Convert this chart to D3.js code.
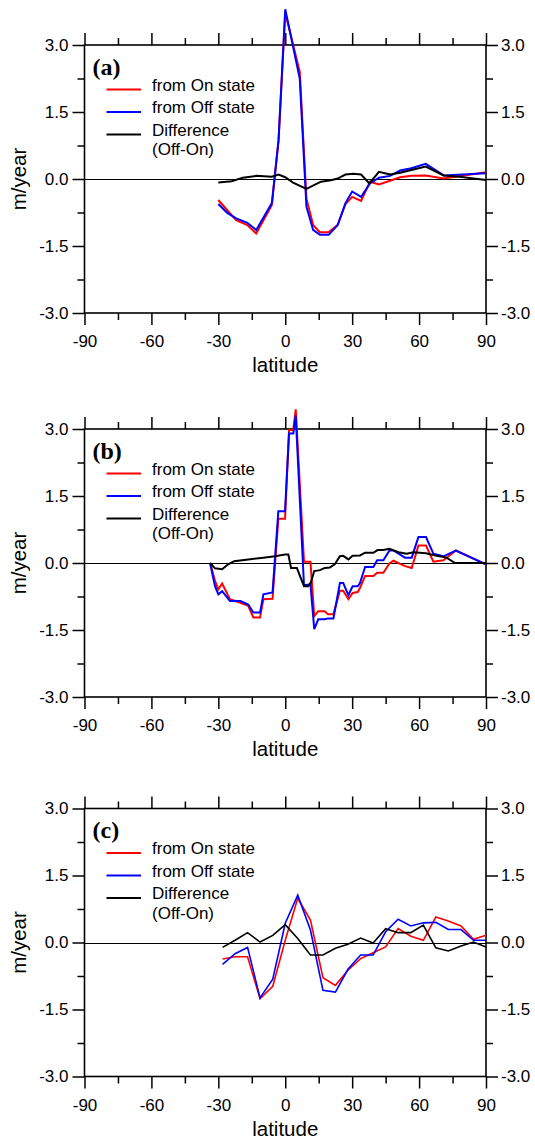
<!DOCTYPE html>
<html>
<head>
<meta charset="utf-8">
<script src="https://cdn.jsdelivr.net/npm/d3@7"></script>
<style>
  body { margin: 0; background: #fff; }
  text { font-family: "Liberation Sans", Arial, Helvetica, sans-serif; fill: #000; }
</style>
</head>
<body>
<svg id="chart" width="535" height="1144"></svg>
<script>
// ---- axis ticks ----
const xMajorTicks = [-90, -60, -30, 0, 30, 60, 90];
const xMinorTicks = [-75, -45, -15, 15, 45, 75];
const yMajorTicks = [-3, -1.5, 0, 1.5, 3];
const yMinorTicks = [-2.25, -0.75, 0.75, 2.25];
const legendLabels = ["from On state", "from Off state", "Difference", "(Off-On)"];
const panelLabels = ["(a)", "(b)", "(c)"];

// ---- panel (a) ----
const latA = [-30, -26, -22, -17, -13, -6, -3, 0, 6.5, 9.5, 12.5, 15.5, 19.5, 23.5, 27, 30, 34, 38, 42, 47, 51.5, 56.5, 63, 71, 90];
const onA  = [-0.47, -0.70, -0.92, -1.03, -1.22, -0.58, 0.87, 3.72, 2.40, -0.44, -1.03, -1.19, -1.19, -1.03, -0.56, -0.40, -0.49, -0.06, -0.12, -0.04, 0.04, 0.07, 0.08, 0.01, 0.15];
const offA = [-0.56, -0.76, -0.88, -0.98, -1.14, -0.54, 0.87, 3.80, 2.25, -0.62, -1.14, -1.25, -1.25, -1.03, -0.54, -0.28, -0.40, -0.10, 0.03, 0.07, 0.19, 0.24, 0.34, 0.08, 0.13];
const diffLatA = [-30, -24, -19, -13, -6, -3, 0, 3.5, 9.5, 16, 20.5, 23.5, 27, 30.5, 34, 37.7, 42, 47, 51.5, 56.5, 63, 71, 78, 90];
const diffA    = [-0.08, -0.05, 0.03, 0.07, 0.05, 0.10, 0.04, -0.08, -0.22, -0.06, -0.03, 0.01, 0.10, 0.12, 0.10, -0.10, 0.16, 0.10, 0.14, 0.20, 0.28, 0.08, 0.05, -0.02];

// ---- panel (b) ----
const latB = [-33.7, -31.5, -30, -28.3, -24.8, -20.1, -16.6, -14.3, -11.3, -9.8, -5.7, -3.1, -0.1, 1.7, 3.6, 4.7, 8.4, 11.3, 13, 14.8, 17.7, 19.2, 21.6, 24.5, 26, 28.3, 30.2, 32.5, 33.5, 35.8, 39.5, 41.2, 44, 46.7, 48.5, 53.7, 56.7, 59.7, 63.1, 66.4, 70.9, 76.5, 90];
const onB  = [0, -0.40, -0.59, -0.46, -0.81, -0.89, -0.96, -1.22, -1.22, -0.81, -0.80, 0.99, 0.99, 2.98, 2.98, 3.44, 0.03, 0.03, -1.19, -1.08, -1.08, -1.15, -1.15, -0.62, -0.62, -0.81, -0.67, -0.65, -0.56, -0.29, -0.29, -0.22, -0.22, -0.01, 0.05, -0.07, -0.11, 0.39, 0.39, 0.03, 0.06, 0.28, -0.03];
const offB = [0, -0.52, -0.70, -0.63, -0.85, -0.85, -0.93, -1.11, -1.11, -0.70, -0.66, 1.16, 1.16, 2.90, 2.90, 3.30, -0.50, -0.48, -1.48, -1.26, -1.26, -1.24, -1.24, -0.45, -0.45, -0.72, -0.52, -0.52, -0.45, -0.09, -0.09, 0.06, 0.06, 0.28, 0.28, 0.12, 0.12, 0.58, 0.58, 0.21, 0.15, 0.28, -0.03];
const diffLatB = [-33.7, -31.5, -28.3, -25.6, -22.9, -16.6, -9.8, -4.6, -0.1, 1.4, 2.6, 5.2, 8.4, 10.3, 11.5, 13, 15.6, 17.7, 20, 22.2, 24.5, 26, 28.3, 30.2, 33.5, 35.8, 39.5, 41.4, 44, 46.7, 50.8, 54.4, 57.5, 63.1, 67.9, 72.3, 76.1, 90];
const diffB    = [0, -0.12, -0.14, -0.03, 0.04, 0.08, 0.12, 0.15, 0.19, 0.19, -0.11, -0.11, -0.52, -0.52, -0.43, -0.18, -0.16, -0.11, -0.10, -0.03, 0.15, 0.16, 0.08, 0.16, 0.17, 0.23, 0.23, 0.29, 0.29, 0.32, 0.24, 0.21, 0.24, 0.22, 0.16, 0.12, 0.0, 0.0];

// ---- panel (c) ----
const latC  = [-28.1, -22.5, -16.9, -11.3, -5.6, 0, 5.6, 11.3, 16.9, 22.5, 28.1, 33.8, 39.4, 45, 50.6, 56.3, 61.9, 67.5, 73.1, 78.8, 84.4, 90];
const onC   = [-0.37, -0.32, -0.32, -1.26, -0.98, 0.05, 0.99, 0.50, -0.79, -0.96, -0.62, -0.36, -0.23, -0.10, 0.31, 0.14, 0.05, 0.57, 0.48, 0.37, 0.07, 0.16];
const offC  = [-0.49, -0.25, -0.11, -1.24, -0.82, 0.43, 1.06, 0.28, -1.07, -1.11, -0.60, -0.28, -0.28, 0.24, 0.52, 0.37, 0.44, 0.45, 0.29, 0.29, 0.05, 0.05];
const diffC = [-0.11, 0.05, 0.22, 0.01, 0.16, 0.40, 0.09, -0.28, -0.28, -0.13, -0.04, 0.10, -0.01, 0.31, 0.22, 0.22, 0.39, -0.12, -0.19, -0.08, 0.01, -0.10];

// ---- layout ----
const plotLeft = 84.5, plotRight = 486, plotH = 268;
const panels = [
  { label: panelLabels[0], top: 45,    lat: latA, on: onA, off: offA, dLat: diffLatA, diff: diffA, lw: 2 },
  { label: panelLabels[1], top: 429,   lat: latB, on: onB, off: offB, dLat: diffLatB, diff: diffB, lw: 2 },
  { label: panelLabels[2], top: 808.5, lat: latC, on: onC, off: offC, dLat: latC,     diff: diffC, lw: 1.6 }
];
const colors = { on: "#ff0000", off: "#0000ff", diff: "#000000" };

const svg = d3.select("#chart");
const x = d3.scaleLinear().domain([-90, 90]).range([plotLeft, plotRight]);
const fmtY = d => d.toFixed(1);

panels.forEach(p => {
  const y = d3.scaleLinear().domain([-3, 3]).range([p.top + plotH, p.top]);
  const g = svg.append("g");

  const styleAxis = (sel) => {
    sel.select(".domain").remove();
    sel.selectAll(".tick line").attr("stroke", "#000").attr("stroke-width", 1.5);
    sel.selectAll(".tick text").style("font-size", "17px")
      .style("font-family", '"Liberation Sans", Arial, Helvetica, sans-serif');
  };

  // minor ticks (outward on all four sides)
  g.append("g").attr("transform", `translate(${plotLeft},0)`)
    .call(d3.axisLeft(y).tickValues(yMinorTicks).tickSize(7).tickFormat(""))
    .call(styleAxis);
  g.append("g").attr("transform", `translate(${plotRight},0)`)
    .call(d3.axisRight(y).tickValues(yMinorTicks).tickSize(7).tickFormat(""))
    .call(styleAxis);
  g.append("g").attr("transform", `translate(0,${p.top})`)
    .call(d3.axisTop(x).tickValues(xMinorTicks).tickSize(7).tickFormat(""))
    .call(styleAxis);
  g.append("g").attr("transform", `translate(0,${p.top + plotH})`)
    .call(d3.axisBottom(x).tickValues(xMinorTicks).tickSize(7).tickFormat(""))
    .call(styleAxis);

  // major ticks with labels
  g.append("g").attr("transform", `translate(${plotLeft},0)`)
    .call(d3.axisLeft(y).tickValues(yMajorTicks).tickSize(12).tickPadding(4).tickFormat(fmtY))
    .call(styleAxis);
  g.append("g").attr("transform", `translate(${plotRight},0)`)
    .call(d3.axisRight(y).tickValues(yMajorTicks).tickSize(12).tickPadding(3).tickFormat(fmtY))
    .call(styleAxis);
  g.append("g").attr("transform", `translate(0,${p.top})`)
    .call(d3.axisTop(x).tickValues(xMajorTicks).tickSize(12).tickFormat(""))
    .call(styleAxis);
  g.append("g").attr("transform", `translate(0,${p.top + plotH})`)
    .call(d3.axisBottom(x).tickValues(xMajorTicks).tickSize(12).tickPadding(10).tickFormat(d => String(d)))
    .call(styleAxis);

  // frame
  g.append("rect")
    .attr("x", plotLeft).attr("y", p.top)
    .attr("width", plotRight - plotLeft).attr("height", plotH)
    .attr("fill", "none").attr("stroke", "#000").attr("stroke-width", 1.6);

  // zero reference line, snapped to the pixel grid so it stays crisp
  const y0 = Math.round(y(0)) + 0.5;
  g.append("line")
    .attr("x1", plotLeft).attr("x2", plotRight)
    .attr("y1", y0).attr("y2", y0)
    .attr("stroke", "#000").attr("stroke-width", 1);

  // axis titles
  g.append("text")
    .attr("transform", `translate(26,${y(0)}) rotate(-90)`)
    .attr("text-anchor", "middle")
    .style("font-size", "20.5px")
    .text("m/year");
  g.append("text")
    .attr("x", x(0)).attr("y", p.top + plotH + 59)
    .attr("text-anchor", "middle")
    .style("font-size", "20.5px")
    .text("latitude");

  // series
  const line = d3.line().x(d => x(d[0])).y(d => y(d[1]));
  const series = [
    { xs: p.lat,  ys: p.on,   c: colors.on },
    { xs: p.lat,  ys: p.off,  c: colors.off },
    { xs: p.dLat, ys: p.diff, c: colors.diff }
  ];
  series.forEach(s => {
    g.append("path")
      .datum(s.xs.map((v, i) => [v, s.ys[i]]))
      .attr("d", line)
      .attr("fill", "none")
      .attr("stroke", s.c)
      .attr("stroke-width", p.lw)
      .attr("stroke-linejoin", "miter");
  });

  // panel label
  g.append("text")
    .attr("x", 92.5).attr("y", p.top + 29.5)
    .style("font-family", '"Liberation Serif", "Times New Roman", serif')
    .style("font-weight", "bold")
    .style("font-size", "24px")
    .text(p.label);

  // legend
  const legendRows = [
    { c: colors.on,   dy: 44.5, text: [legendLabels[0]] },
    { c: colors.off,  dy: 67,   text: [legendLabels[1]] },
    { c: colors.diff, dy: 89.5, text: [legendLabels[2], legendLabels[3]] }
  ];
  legendRows.forEach(r => {
    g.append("line")
      .attr("x1", 106.5).attr("x2", 141)
      .attr("y1", p.top + r.dy).attr("y2", p.top + r.dy)
      .attr("stroke", r.c).attr("stroke-width", 2);
    r.text.forEach((s, i) => {
      g.append("text")
        .attr("x", 152)
        .attr("y", p.top + r.dy + 1 + i * 19.5)
        .style("font-size", "17px")
        .text(s);
    });
  });
});
</script>
</body>
</html>
